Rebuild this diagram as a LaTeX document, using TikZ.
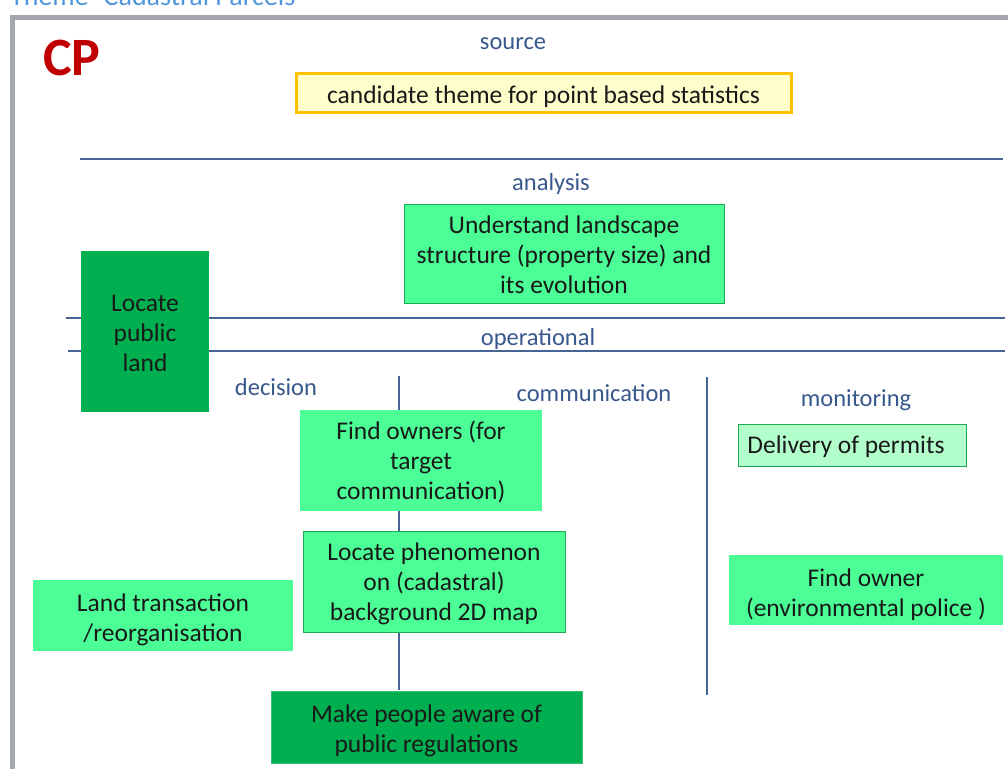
\documentclass[tikz,border=0pt]{standalone}
\usepackage{fontspec}
\setmainfont{Carlito}
\definecolor{lgreen}{RGB}{75,255,150}
\definecolor{dgreen}{RGB}{0,176,80}
\definecolor{pgreen}{RGB}{179,255,204}
\definecolor{bgreen}{RGB}{30,170,80}
\definecolor{cyellow}{RGB}{255,255,204}
\definecolor{corange}{RGB}{255,192,0}
\definecolor{lblue}{RGB}{56,88,140}
\definecolor{lineblue}{RGB}{70,100,150}
\definecolor{cpred}{RGB}{192,0,0}
\definecolor{titleblue}{RGB}{80,150,220}
\definecolor{framegray}{RGB}{165,168,172}
\newcommand{\fl}[1]{\rule{0pt}{#1}}
\begin{document}
\begin{tikzpicture}[x=1pt,y=-1pt,
  box/.style={inner sep=0pt, align=center, font=\fontsize{25.5}{30}\selectfont, text=black!90},
  lgbox/.style={box, fill=lgreen},
  dgbox/.style={box, fill=dgreen},
  lbl/.style={inner sep=0pt, text=lblue, font=\fontsize{24.5}{28}\selectfont},
  sep/.style={draw=lineblue, line width=1.3pt}]
\useasboundingbox (0,0) rectangle (1008,769);
% title (cut off at the top edge, as in the reference) and frame
\node[anchor=base west, inner sep=0pt, text=titleblue, font=\fontsize{28}{32}\selectfont] (title) at (10,5) {Theme- Cadastral Parcels};
\draw[framegray, line width=5pt] (12.5,769) -- (12.5,17.5) -- (1008,17.5);
% named end points of separators
\coordinate (h1a) at (80,159);  \coordinate (h1b) at (1003,159);
\coordinate (h2a) at (66,318);  \coordinate (h2b) at (1005,318);
\coordinate (h3a) at (68,351);  \coordinate (h3b) at (1005,351);
\coordinate (v1a) at (399,376); \coordinate (v1b) at (399,690);
\coordinate (v2a) at (707,377); \coordinate (v2b) at (707,695);
\draw[sep] (h1a) -- (h1b);
\draw[sep] (h2a) -- (h2b);
\draw[sep] (h3a) -- (h3b);
\draw[sep] (v1a) -- (v1b);
\draw[sep] (v2a) -- (v2b);
% CP
\node[inner sep=0pt, text=cpred, font=\fontsize{54}{58}\selectfont\bfseries] (cp) at (72,58) {CP};
% labels
\node[lbl] (source) at (513,44) {source};
\node[lbl] (analysis) at (551,184) {analysis};
\node[lbl] (operational) at (538,339) {operational};
\node[lbl] (decision) at (276,387) {decision};
\node[lbl] (communication) at (594,393) {communication};
\node[lbl] (monitoring) at (856,400) {monitoring};
% boxes
\node[box, fill=cyellow, draw=corange, line width=3pt, minimum width=495pt, minimum height=39pt, text height=27pt, text depth=6pt] (cand) at (543.5,92.5) {candidate theme for point based statistics};
\node[lgbox, draw=bgreen, line width=0.8pt, minimum width=320pt, minimum height=99pt] (under) at (564,253.5) {\fl{20pt}Understand landscape\\structure (property size) and\\its evolution};
\node[dgbox, minimum width=128pt, minimum height=161pt] (locpub) at (145,331.5) {\fl{20pt}Locate\\public\\land};
\node[lgbox, minimum width=242pt, minimum height=101pt] (findowners) at (421,460.5) {\fl{22pt}Find owners (for\\target\\communication)};
\node[lgbox, draw=bgreen, line width=0.8pt, minimum width=262pt, minimum height=101pt] (locphen) at (434,581.5) {\fl{22pt}Locate phenomenon\\on (cadastral)\\background 2D map};
\node[lgbox, minimum width=260pt, minimum height=71pt] (landtr) at (163,615.5) {\fl{27pt}Land transaction\\/reorganisation};
\node[box, fill=pgreen, draw=bgreen, line width=0.8pt, minimum width=228pt, minimum height=42pt, text height=23pt, text depth=6pt] (deliv) at (852,445) {Delivery of permits\hspace{12pt}};
\node[lgbox, minimum width=274pt, minimum height=70pt] (findenv) at (866,590) {\fl{27pt}Find owner\\(environmental police )};
\node[dgbox, draw=dgreen!80!white, line width=0.6pt, minimum width=311pt, minimum height=72pt] (make) at (426.5,727) {\fl{25pt}Make people aware of\\public regulations};
\end{tikzpicture}
\end{document}
